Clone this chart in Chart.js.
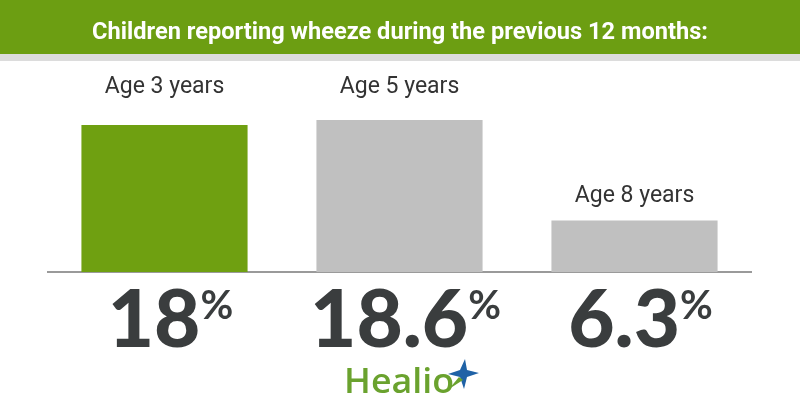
<!DOCTYPE html>
<html>
<head>
<meta charset="utf-8">
<script src="https://cdn.jsdelivr.net/npm/chart.js@4"></script>
<style>
  body { margin: 0; background: #fff; }
  #wrap { width: 800px; height: 420px; }
</style>
</head>
<body>
<div id="wrap"><canvas id="chart" width="800" height="420"></canvas></div>
<script>
const title = "Children reporting wheeze during the previous 12 months:";
const categories = ["Age 3 years", "Age 5 years", "Age 8 years"];
const wheezePct = [18, 18.6, 6.3];
const valueLabels = ["18", "18.6", "6.3"];

const canvas = document.getElementById("chart");

// header band, baseline, labels, big numbers, logo
const decor = {
  id: "decor",
  beforeDraw(chart){
    const ctx = chart.ctx;
    ctx.save();
    ctx.fillStyle = "#fff";
    ctx.fillRect(0, 0, 800, 420);
    ctx.fillStyle = "#6c9e12";
    ctx.fillRect(0, 0, 800, 54);
    ctx.fillStyle = "#dcdcdc";
    ctx.fillRect(0, 54, 800, 7);
    // title, squeezed to look condensed
    ctx.font = "bold 24px Roboto";
    ctx.fillStyle = "#fff";
    ctx.textBaseline = "alphabetic";
    const w = ctx.measureText(title).width;
    ctx.translate(400, 39);
    ctx.scale(616 / w, 1);
    ctx.textAlign = "center";
    ctx.fillText(title, 0, 0);
    ctx.restore();
  },
  beforeDatasetsDraw(chart){
    const ctx = chart.ctx;
    const area = chart.chartArea;
    const y0 = chart.scales.y.getPixelForValue(0);
    ctx.save();
    ctx.strokeStyle = "#9a9a9a";
    ctx.lineWidth = 2;
    ctx.beginPath();
    ctx.moveTo(area.left, y0);
    ctx.lineTo(area.right, y0);
    ctx.stroke();
    ctx.restore();
  },
  afterDatasetsDraw(chart){
    const ctx = chart.ctx;
    const meta = chart.getDatasetMeta(0);
    ctx.save();
    meta.data.forEach((bar, i) => {
      // category label above the bar
      ctx.font = "23px Roboto";
      ctx.fillStyle = "#333";
      ctx.textAlign = "center";
      ctx.textBaseline = "alphabetic";
      const ly = bar.y - 19 > 150 ? bar.y - 19 : 93;
      ctx.fillText(categories[i], bar.x, ly);

      // big value with superscript %
      ctx.font = "900 80px Lato";
      const numW = ctx.measureText(valueLabels[i]).width;
      ctx.font = "bold 40px Lato";
      const pctW = ctx.measureText("%").width;
      const left = bar.x + 6 - (numW + pctW) / 2;
      ctx.textAlign = "left";
      ctx.fillStyle = "#3a3d3e";
      ctx.font = "900 80px Lato";
      ctx.fillText(valueLabels[i], left, 347);
      ctx.font = "bold 40px Lato";
      ctx.fillText("%", left + numW, 319);
    });

    // Healio logo
    ctx.font = "600 35px 'Open Sans'";
    ctx.fillStyle = "#6aa22e";
    ctx.textAlign = "left";
    const hw = ctx.measureText("Healio").width;
    ctx.save();
    ctx.translate(344, 393);
    ctx.scale(110 / hw, 1);
    ctx.fillText("Healio", 0, 0);
    ctx.restore();
    const cx = 463, cy = 374;
    ctx.fillStyle = "#1f62a6";
    ctx.beginPath();
    ctx.moveTo(cx + 2, cy - 15);
    ctx.lineTo(cx + 4, cy - 4);
    ctx.lineTo(cx + 16, cy - 1);
    ctx.lineTo(cx + 4, cy + 3);
    ctx.lineTo(cx + 1, cy + 15);
    ctx.lineTo(cx - 3, cy + 3);
    ctx.lineTo(cx - 15, cy);
    ctx.lineTo(cx - 3, cy - 4);
    ctx.closePath();
    ctx.fill();
    ctx.fillStyle = "#6aa22e";
    ctx.beginPath();
    ctx.moveTo(cx - 4, cy + 3);
    ctx.lineTo(cx - 14, cy + 15);
    ctx.lineTo(cx, cy + 6);
    ctx.closePath();
    ctx.fill();
    ctx.restore();
  }
};

new Chart(canvas, {
  type: "bar",
  data: {
    labels: categories,
    datasets: [{
      data: wheezePct,
      backgroundColor: ["#6fa011", "#c0c0c0", "#c0c0c0"],
      borderWidth: 0,
      categoryPercentage: 1,
      barPercentage: 0.707
    }]
  },
  options: {
    responsive: false,
    animation: false,
    devicePixelRatio: 1,
    layout: { padding: { left: 47, right: 48, top: 76, bottom: 148 } },
    plugins: { legend: { display: false }, tooltip: { enabled: false } },
    scales: {
      x: { display: false },
      y: { display: false, min: 0, max: 24 }
    }
  },
  plugins: [decor]
});
</script>
</body>
</html>
